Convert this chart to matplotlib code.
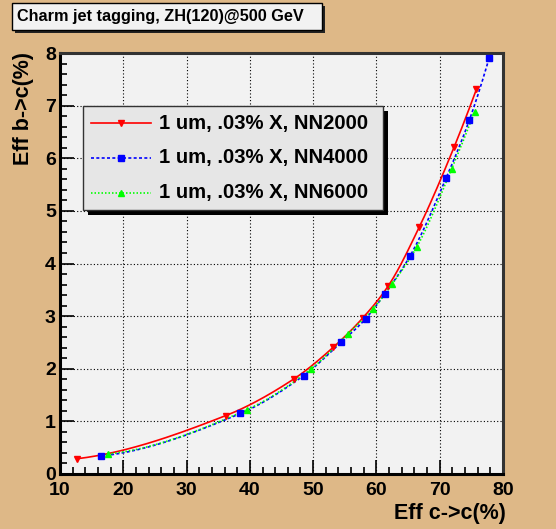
import numpy as np
import matplotlib
matplotlib.use("Agg")
import matplotlib.pyplot as plt
from matplotlib.patches import Rectangle
from matplotlib.lines import Line2D
from matplotlib.ticker import MultipleLocator

plt.rcParams['font.family'] = ['Liberation Sans', 'DejaVu Sans']

title = "Charm jet tagging, ZH(120)@500 GeV"
xlabel = "Eff c->c(%)"
ylabel = "Eff b->c(%)"

labels = ["1 um, .03% X, NN2000", "1 um, .03% X, NN4000", "1 um, .03% X, NN6000"]

x_nn2000 = [12.7, 36.2, 47.0, 53.2, 57.8, 61.9, 66.8, 72.3, 75.8]
y_nn2000 = [0.29, 1.11, 1.81, 2.41, 2.96, 3.58, 4.70, 6.22, 7.31]

x_nn4000 = [16.4, 38.5, 48.5, 54.4, 58.3, 61.3, 65.3, 71.0, 74.7, 77.8]
y_nn4000 = [0.34, 1.15, 1.87, 2.50, 2.95, 3.42, 4.14, 5.62, 6.73, 7.90]

x_nn6000 = [17.6, 39.5, 49.7, 55.5, 59.5, 62.5, 66.4, 71.9, 75.5]
y_nn6000 = [0.38, 1.22, 2.00, 2.66, 3.14, 3.61, 4.32, 5.80, 6.88]

BG = '#DEB887'
W, H = 556, 529
fig = plt.figure(figsize=(W / 100, H / 100), dpi=100, facecolor=BG)

L, R, T, B = 60, 503, 53, 474
ax = fig.add_axes([L / W, 1 - B / H, (R - L) / W, (B - T) / H])
ax.set_facecolor('#F2F2F2')
ax.set_xlim(10, 80)
ax.set_ylim(0, 8)


def smooth(xs, ys, n=30):
    # monotone cubic (PCHIP) curve through the data points, for drawing only
    x = np.asarray(xs, float)
    y = np.asarray(ys, float)
    h = np.diff(x)
    d = np.diff(y) / h
    m = np.zeros_like(x)
    for k in range(1, len(x) - 1):
        if d[k - 1] * d[k] > 0:
            w1 = 2 * h[k] + h[k - 1]
            w2 = h[k] + 2 * h[k - 1]
            m[k] = (w1 + w2) / (w1 / d[k - 1] + w2 / d[k])
    m[0] = ((2 * h[0] + h[1]) * d[0] - h[0] * d[1]) / (h[0] + h[1])
    if m[0] * d[0] <= 0:
        m[0] = 0
    m[-1] = ((2 * h[-1] + h[-2]) * d[-1] - h[-1] * d[-2]) / (h[-1] + h[-2])
    if m[-1] * d[-1] <= 0:
        m[-1] = 0
    X, Y = [], []
    for k in range(len(x) - 1):
        t = np.linspace(0, 1, n, endpoint=False)
        h00 = 2 * t ** 3 - 3 * t ** 2 + 1
        h10 = t ** 3 - 2 * t ** 2 + t
        h01 = -2 * t ** 3 + 3 * t ** 2
        h11 = t ** 3 - t ** 2
        X.append(x[k] + t * h[k])
        Y.append(h00 * y[k] + h10 * h[k] * m[k] + h01 * y[k + 1] + h11 * h[k] * m[k + 1])
    X.append([x[-1]])
    Y.append([y[-1]])
    return np.concatenate(X), np.concatenate(Y)


series = [
    (x_nn2000, y_nn2000, 'red', '-', 'v'),
    (x_nn4000, y_nn4000, 'blue', (0, (1.8, 1.4)), 's'),
    (x_nn6000, y_nn6000, '#00FF00', (0, (0.9, 1.2)), '^'),
]
LW = 1.2
MS = 5
handles = []
for xs, ys, c, ls, m in series:
    sx, sy = smooth(xs, ys)
    ax.plot(sx, sy, color=c, linestyle=ls, lw=LW, zorder=3)
    ax.plot(xs, ys, linestyle='none', marker=m, color=c, ms=MS, zorder=4)
    handles.append((c, ls, m))

ax.xaxis.set_major_locator(MultipleLocator(10))
ax.xaxis.set_minor_locator(MultipleLocator(2))
ax.yaxis.set_major_locator(MultipleLocator(1))
ax.yaxis.set_minor_locator(MultipleLocator(0.2))
ax.grid(True, which='major', color='black', linestyle=(0, (1, 2)), lw=0.8)
ax.tick_params(which='both', direction='in', top=False, right=False, width=1.2)
ax.tick_params(which='major', length=10, labelsize=14, pad=6)
ax.tick_params(which='minor', length=5)
for lab in ax.get_xticklabels() + ax.get_yticklabels():
    lab.set_fontweight('bold')
ax.tick_params(axis='y', pad=3)
for s in ax.spines.values():
    s.set_linewidth(2.2)
    s.set_color('black')
ax.spines['right'].set_color('#333333')
ax.spines['top'].set_color('#333333')

# axis titles
fig.text(506 / W, 1 - 514 / H, xlabel, ha='right', va='center', fontsize=15.5, fontweight='bold')
fig.text(23 / W, 1 - 52 / H, ylabel, ha='center', va='top', rotation=90, fontsize=15.5, fontweight='bold')

# title box
fig.patches.append(Rectangle((15 / W, 1 - 33 / H), 310 / W, 27 / H, transform=fig.transFigure,
                             facecolor='#222222', edgecolor='none', zorder=1))
fig.patches.append(Rectangle((12 / W, 1 - 30 / H), 310 / W, 27 / H, transform=fig.transFigure,
                             facecolor='#F2F2F2', edgecolor='black', lw=1, zorder=2))
fig.text(17 / W, 1 - 17 / H, title, ha='left', va='center', fontsize=11.7, fontweight='bold', zorder=3)

# legend box with shadow
lx0, lx1, ly0, ly1 = 83, 383, 106, 210
fig.patches.append(Rectangle(((lx0 + 5) / W, 1 - (ly1 + 5) / H), (lx1 - lx0) / W, (ly1 - ly0) / H,
                             transform=fig.transFigure, facecolor='black', edgecolor='none', zorder=5))
fig.patches.append(Rectangle((lx0 / W, 1 - ly1 / H), (lx1 - lx0) / W, (ly1 - ly0) / H,
                             transform=fig.transFigure, facecolor='#E6E6E6', edgecolor='#333333',
                             lw=1, zorder=6))
rows = [123, 158, 193]
for (c, ls, m), lab, yy in zip(handles, labels, rows):
    yf = 1 - yy / H
    fig.lines.append(Line2D([91 / W, 151 / W], [yf, yf], transform=fig.transFigure,
                            color=c, linestyle=ls, lw=LW, zorder=7))
    fig.lines.append(Line2D([121 / W], [yf], transform=fig.transFigure, color=c,
                            marker=m, ms=MS, linestyle='none', zorder=8))
    fig.text(159 / W, yf, lab, ha='left', va='center', fontsize=14.6, fontweight='bold', zorder=8)

fig.savefig('out.png', dpi=100, facecolor=BG)
